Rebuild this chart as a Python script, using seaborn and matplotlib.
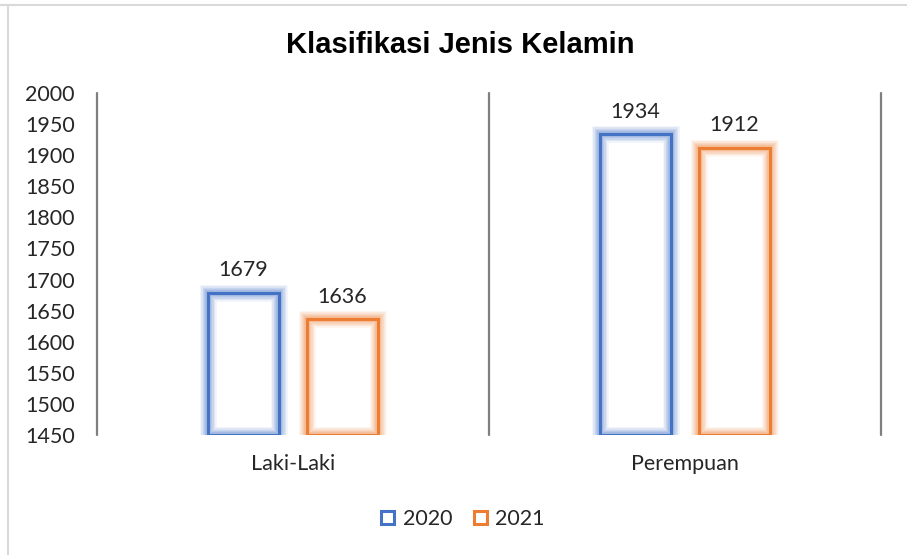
import matplotlib
matplotlib.use("Agg")
import matplotlib.pyplot as plt
import matplotlib.patheffects as pe
from matplotlib.patches import Patch
from matplotlib.lines import Line2D
import seaborn as sns
import pandas as pd

# ---- data ----
categories = ["Laki-Laki", "Perempuan"]
years = ["2020", "2021"]
values_2020 = [1679, 1934]
values_2021 = [1636, 1912]
y_ticks = list(range(1450, 2001, 50))
title = "Klasifikasi Jenis Kelamin"

colors = {"2020": "#4472C4", "2021": "#ED7D31"}

df = pd.DataFrame({
    "Kategori": categories * 2,
    "Tahun": [years[0]] * len(categories) + [years[1]] * len(categories),
    "Jumlah": values_2020 + values_2021,
})
series_values = {years[0]: values_2020, years[1]: values_2021}

sns.set_theme(style="white")
plt.rcParams["font.family"] = ["Lato", "DejaVu Sans"]

W, H = 907, 555
FS = 15.5
fig = plt.figure(figsize=(W / 100, H / 100), dpi=100)
fig.patch.set_facecolor("white")
ax = fig.add_axes([97 / W, 1 - 435 / H, (881 - 97) / W, (435 - 93) / H])

sns.barplot(data=df, x="Kategori", y="Jumlah", hue="Tahun", order=categories,
            hue_order=years, palette=colors, width=0.505, gap=0.287,
            fill=False, linewidth=2.2, errorbar=None, ax=ax)

y_min, y_max = y_ticks[0], y_ticks[-1]

# bars start at axis minimum, with soft glow
for container, yr in zip(ax.containers, years):
    c = colors[yr]
    for p in container.patches:
        h = p.get_height()
        p.set_y(y_min)
        p.set_height(h - y_min)
        p.set_facecolor("none")
        p.set_edgecolor(c)
        p.set_path_effects([
            pe.Stroke(linewidth=12, foreground=c, alpha=0.08),
            pe.Stroke(linewidth=10, foreground=c, alpha=0.10),
            pe.Stroke(linewidth=8, foreground=c, alpha=0.12),
            pe.Stroke(linewidth=6, foreground=c, alpha=0.14),
            pe.Stroke(linewidth=4, foreground=c, alpha=0.18),
            pe.Normal(),
        ])
    ax.bar_label(container, labels=[str(v) for v in series_values[yr]],
                 padding=9, fontsize=FS, color="#262626")

leg = ax.get_legend()
if leg is not None:
    leg.remove()

ax.set_ylim(y_min, y_max)
ax.set_yticks(y_ticks)
ax.set_xlim(-0.5, len(categories) - 0.5)
for xv in [i - 0.5 for i in range(len(categories) + 1)]:
    ax.axvline(xv, color="#7F7F7F", linewidth=1.6, clip_on=False, zorder=1)

for s in ax.spines.values():
    s.set_visible(False)
ax.grid(False)
ax.set_xlabel("")
ax.set_ylabel("")
ax.tick_params(axis="y", length=0, pad=16, labelsize=FS, labelcolor="#262626")
ax.tick_params(axis="x", length=0, pad=14, labelsize=FS, labelcolor="#262626")

fig.text(460.5 / W, 1 - 45 / H, title, ha="center", va="center",
         fontsize=21, fontweight="bold", family=["Liberation Sans", "DejaVu Sans"],
         color="black")

handles = [Patch(facecolor="white", edgecolor=colors[y], linewidth=2.2) for y in years]
fig.legend(handles, years, loc="center", bbox_to_anchor=(463 / W, 1 - 519 / H),
           ncol=2, frameon=False, fontsize=FS, handlelength=0.6,
           handleheight=0.6, handletextpad=0.4, columnspacing=1.0,
           labelcolor="#262626")

# chart-area border (left and top edges visible)
fig.add_artist(Line2D([8 / W, 8 / W], [0, 1 - 5 / H], transform=fig.transFigure,
                      color="#D9D9D9", linewidth=1.5))
fig.add_artist(Line2D([0, 1], [1 - 5 / H, 1 - 5 / H], transform=fig.transFigure,
                      color="#D9D9D9", linewidth=1.5))

fig.savefig("out.png", dpi=100)
